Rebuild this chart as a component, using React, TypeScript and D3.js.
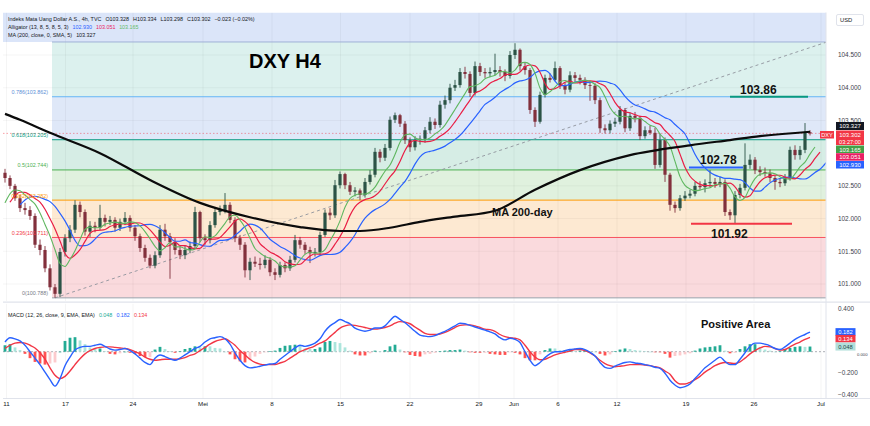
import React from "react";
import * as d3 from "d3";

// ---------- DATA ----------
const firstOpen = 102.7;
const closes = [
  102.62,102.50,102.31,102.16,102.13,102.04,101.60,101.52,101.24,100.95,
  100.85,101.49,101.70,101.83,102.21,102.10,101.80,101.89,101.86,102.01,
  101.95,101.98,101.86,101.95,102.01,101.86,101.73,101.55,101.40,101.28,
  101.44,101.83,101.73,101.64,101.52,101.44,101.52,101.58,102.10,101.70,
  101.67,101.90,102.10,102.13,102.21,101.98,101.70,101.60,101.21,101.34,
  101.31,101.29,101.37,101.18,101.14,101.29,101.24,101.37,101.67,101.60,
  101.52,101.47,101.49,101.75,102.09,102.05,102.51,102.68,102.51,102.41,
  102.43,102.36,102.56,102.67,103.02,102.93,103.08,103.51,103.58,103.45,
  103.20,103.09,103.20,103.22,103.35,103.48,103.43,103.74,103.81,104.00,
  104.04,104.24,104.21,103.92,104.33,104.24,104.22,104.24,104.27,104.24,
  104.18,104.50,104.58,104.33,104.27,103.66,103.48,103.89,104.15,104.12,
  104.30,104.04,103.97,104.19,104.15,104.12,104.04,104.03,103.81,103.38,
  103.35,103.45,103.48,103.66,103.38,103.57,103.54,103.26,103.35,103.31,
  102.82,103.20,102.67,102.21,102.16,102.31,102.35,102.38,102.50,102.48,
  102.54,102.56,102.53,102.56,102.10,102.05,102.36,102.47,102.82,102.90,
  102.74,102.71,102.69,102.62,102.56,102.54,102.62,103.05,102.97,103.05,
  103.32,103.30,
];
const highs = [
  102.76,102.66,102.53,102.36,102.24,102.19,102.08,101.68,101.58,101.30,
  101.00,101.55,101.76,101.90,102.28,102.26,102.14,101.96,101.95,102.21,
  102.06,102.04,102.02,102.00,102.10,102.05,101.90,101.77,101.60,101.45,
  101.50,101.90,101.92,101.78,101.70,101.58,101.58,101.65,102.18,102.12,
  101.76,101.96,102.17,102.20,102.39,102.25,102.02,101.75,101.64,101.40,
  101.42,101.40,101.44,101.41,101.24,101.34,101.33,101.43,101.75,101.72,
  101.64,101.57,101.55,101.80,102.14,102.16,102.59,102.72,102.70,102.56,
  102.48,102.46,102.62,102.74,103.08,103.06,103.14,103.56,103.62,103.60,
  103.49,103.24,103.26,103.27,103.40,103.55,103.53,103.80,103.88,104.06,
  104.12,104.30,104.32,104.25,104.40,104.38,104.30,104.31,104.52,104.33,
  104.28,104.56,104.68,104.60,104.38,104.30,103.70,103.94,104.20,104.22,
  104.40,104.33,104.08,104.25,104.24,104.20,104.16,104.10,104.07,103.85,
  103.44,103.50,103.54,103.72,103.69,103.62,103.63,103.57,103.41,103.42,
  103.39,103.30,103.24,102.70,102.26,102.36,102.42,102.44,102.56,102.57,
  102.60,102.74,102.62,102.64,102.60,102.14,102.42,102.53,103.15,102.98,
  102.94,102.80,102.78,102.75,102.66,102.62,102.68,103.10,103.12,103.11,
  103.46,103.35,
];
const lows = [
  102.55,102.45,102.27,102.10,102.06,101.98,101.55,101.44,101.18,100.90,
  100.79,100.80,101.42,101.64,101.78,102.02,101.74,101.72,101.79,101.82,
  101.88,101.90,101.80,101.81,101.90,101.80,101.66,101.49,101.34,101.24,
  101.24,101.40,101.66,101.08,101.45,101.38,101.38,101.47,101.54,101.64,
  101.60,101.62,101.86,102.05,102.08,101.93,101.64,101.52,101.10,101.06,
  101.26,101.22,101.24,101.12,101.06,101.10,101.18,101.20,101.33,101.54,
  101.46,101.32,101.42,101.44,101.72,101.98,102.01,102.46,102.45,102.36,
  102.34,102.28,102.32,102.52,102.63,102.86,102.88,103.04,103.46,103.40,
  103.14,103.02,103.04,103.13,103.16,103.30,103.37,103.39,103.68,103.76,
  103.95,104.00,104.14,103.86,103.88,104.18,104.15,104.16,104.19,104.17,
  104.10,104.14,104.44,104.26,104.20,103.60,103.40,103.45,103.85,104.08,
  104.10,103.98,103.90,103.93,104.09,104.05,103.98,103.80,103.75,103.31,
  103.30,103.30,103.40,103.44,103.32,103.34,103.47,103.20,103.22,103.28,
  102.76,102.78,102.56,102.12,102.09,102.12,102.27,102.31,102.34,102.44,
  102.40,102.48,102.47,102.48,102.04,101.98,101.92,102.31,102.43,102.76,
  102.68,102.65,102.64,102.56,102.44,102.48,102.50,102.58,102.90,102.90,
  103.00,103.27,
];

// MA(200) at candle indices
const maIdx = [0,3,9,19,29,39,49,59,67,71,77,83,90,98,106,115,125,137,145,151,161];
const maVals = [103.60,103.51,103.31,103.00,102.59,102.24,102.02,101.87,101.81,101.81,101.86,101.95,102.03,102.12,102.44,102.74,102.97,103.12,103.20,103.26,103.327];

// Alligator (starting value of each line)
const jawSeed = 102.21;
const teethSeed = 102.25;
const lipsSeed = 102.24;

const macdVals = [
  0.09,0.13,0.12,0.10,0.06,0.00,-0.06,-0.12,-0.19,-0.26,
  -0.32,-0.25,-0.13,-0.05,0.015,0.04,0.05,0.05,0.06,0.07,
  0.05,0.025,0.015,0.02,0.03,0.01,-0.02,-0.06,-0.10,-0.12,
  -0.06,-0.03,-0.045,-0.065,-0.08,-0.06,-0.03,0.00,0.03,0.05,
  0.09,0.12,0.13,0.14,0.12,0.07,-0.01,-0.08,-0.13,-0.15,
  -0.145,-0.135,-0.125,-0.115,-0.11,-0.07,-0.035,0.00,0.035,0.06,
  0.05,0.06,0.08,0.12,0.19,0.24,0.27,0.30,0.28,0.26,
  0.22,0.20,0.19,0.20,0.22,0.22,0.24,0.29,0.33,0.30,
  0.27,0.23,0.19,0.155,0.145,0.14,0.15,0.17,0.19,0.215,
  0.24,0.265,0.26,0.245,0.23,0.215,0.20,0.185,0.165,0.13,
  0.11,0.125,0.115,0.085,0.00,-0.08,-0.13,-0.10,-0.055,-0.02,
  0.00,0.00,0.01,0.02,0.025,0.03,0.02,-0.005,-0.04,-0.10,
  -0.145,-0.155,-0.135,-0.115,-0.10,-0.095,-0.105,-0.11,-0.12,-0.13,
  -0.145,-0.155,-0.20,-0.265,-0.31,-0.335,-0.325,-0.30,-0.25,-0.20,
  -0.15,-0.115,-0.08,-0.05,-0.09,-0.12,-0.12,-0.07,-0.01,0.05,
  0.08,0.08,0.07,0.055,0.03,0.02,0.045,0.08,0.115,0.14,
  0.16,0.182,
];
const signalVals = [
  0.03,0.06,0.08,0.085,0.08,0.06,0.035,-0.01,-0.07,-0.15,
  -0.22,-0.25,-0.23,-0.18,-0.12,-0.065,-0.02,0.01,0.03,0.04,
  0.045,0.045,0.04,0.035,0.03,0.02,0.00,-0.02,-0.05,-0.07,
  -0.08,-0.075,-0.07,-0.07,-0.07,-0.065,-0.055,-0.035,-0.02,0.01,
  0.04,0.07,0.095,0.11,0.12,0.095,0.06,0.01,-0.03,-0.07,
  -0.10,-0.115,-0.12,-0.12,-0.12,-0.105,-0.09,-0.06,-0.03,0.00,
  0.02,0.035,0.055,0.08,0.10,0.14,0.18,0.22,0.24,0.25,
  0.245,0.235,0.225,0.215,0.21,0.215,0.225,0.24,0.265,0.28,
  0.275,0.26,0.23,0.20,0.17,0.16,0.16,0.165,0.18,0.20,
  0.225,0.245,0.25,0.25,0.24,0.225,0.21,0.205,0.19,0.16,
  0.14,0.13,0.125,0.11,0.06,0.00,-0.05,-0.075,-0.07,-0.05,
  -0.03,-0.015,-0.005,0.005,0.02,0.02,0.01,-0.01,-0.04,-0.08,
  -0.11,-0.13,-0.14,-0.135,-0.13,-0.12,-0.12,-0.12,-0.125,-0.13,
  -0.14,-0.15,-0.18,-0.21,-0.27,-0.30,-0.30,-0.285,-0.26,-0.23,
  -0.19,-0.16,-0.13,-0.11,-0.10,-0.105,-0.11,-0.095,-0.06,-0.02,
  0.01,0.035,0.05,0.045,0.03,0.015,0.02,0.045,0.07,0.09,
  0.115,0.134,
];

const dateLabels = ["11","17","24","Mei","8","15","22","29","Jun","6","12","19","26","Jul"];
const dateIdx = [0.3,12.1,25.6,39.6,53.4,67.1,81,94.8,101.8,110.6,122.4,136.2,149.8,163.2];
const priceTicks = [104.5,104.0,103.5,102.5,102.0,101.5,101.0];
const macdTickVals = [0.4,-0.2,-0.4];
const macdTickText = ["0.400","−0.200","−0.400"];
const macdZeroText = "0.000";

const fibLow = 100.788;
const fibHigh = 104.699;
const fibLowIdx = 10;
const fibRatios = [0,0.236,0.382,0.5,0.618,0.786,1];
const fibNames = ["0","0.236","0.382","0.5","0.618","0.786"];
const fibPriceText = ["100.788","101.711","102.282","102.744","103.205","103.862"];

const lastPrice = 103.302;
const legendMain = "Indeks Mata Uang Dollar A.S., 4h, TVC";
const legendOHLC = ["103.328","103.334","103.298","103.302"];
const alligatorVals = ["102.930","103.051","103.165"];
const maLegendVal = "103.327";
const macdLegendVals = ["0.048","0.182","0.134"];

const level1 = 103.86, level1From = 145, level1To = 160.6;
const level2 = 102.78, level2From = 136.8, level2To = 147.6;
const level3 = 101.92, level3From = 137.2, level3To = 157.4;

// ---------- HELPERS ----------
function smma(src: number[], n: number, seed: number) {
  const out: number[] = [];
  let prev = seed;
  for (let i = 0; i < src.length; i++) {
    prev = (prev * (n - 1) + src[i]) / n;
    out.push(prev);
  }
  return out;
}

export default function App() {
  const PL = 3, PR = 826;
  const MT = 12.5, MB = 301;
  const ST = 303.5, SB = 398.5;

  const x = d3.scaleLinear().domain([0, 164.4]).range([5, 827]);
  const y = d3.scaleLinear().domain([101, 104.5]).range([284, 55]);
  const ym = d3.scaleLinear().domain([-0.4, 0.4]).range([394.7, 308.7]);

  const opens = closes.map((c, i) => (i === 0 ? firstOpen : closes[i - 1]));
  const hl2 = highs.map((h, i) => (h + lows[i]) / 2);

  const mkAll = (n: number, shift: number, seed: number) => {
    const s = smma(hl2, n, seed);
    const pts: [number, number][] = [[shift - 1, seed]];
    s.forEach((v, k) => pts.push([k + shift, v]));
    return pts;
  };
  const jaw = mkAll(6, 4, jawSeed);
  const teeth = mkAll(4, 2, teethSeed);
  const lips = mkAll(3, 1, lipsSeed);

  const lineP = d3
    .line<[number, number]>()
    .x((d) => x(d[0]))
    .y((d) => y(d[1]))
    .curve(d3.curveMonotoneX);
  const lineM = d3
    .line<[number, number]>()
    .x((d) => x(d[0]))
    .y((d) => ym(d[1]))
    .curve(d3.curveMonotoneX);

  const maPts: [number, number][] = maIdx.map((i, k) => [i, maVals[k]]);
  const macdPts: [number, number][] = macdVals.map((v, i) => [i, v]);
  const sigPts: [number, number][] = signalVals.map((v, i) => [i, v]);
  const hist = macdVals.map((m, i) => m - signalVals[i]);

  const fibPrices = fibRatios.map((r) => fibLow + r * (fibHigh - fibLow));
  const fibLine = ["#9aa3ad", "#f7525f", "#ff9800", "#4caf50", "#089981", "#64b5f6", "#9fb0d6"];
  const fibFill = ["#fadadd", "#fde9d2", "#e0f1de", "#d6ede5", "#dfe8f8", "#dcf1ee"];
  const fibText = ["#787b86", "#f23645", "#ff9800", "#4caf50", "#089981", "#5b8fd6"];
  const fibX0 = x(fibLowIdx) - 3;

  const upC = "#2b5346";
  const dnC = "#82303c";
  const font = "'Liberation Sans', Arial, sans-serif";

  return (
    <svg
      width={870}
      height={426}
      style={{ position: "absolute", left: 0, top: 0, background: "#fff" }}
      fontFamily={font}
    >
      <defs>
        <clipPath id="mainClip">
          <rect x={PL} y={MT} width={PR - PL} height={MB - MT} />
        </clipPath>
        <clipPath id="subClip">
          <rect x={PL} y={ST} width={PR - PL} height={SB - ST} />
        </clipPath>
      </defs>

      {/* ---- main pane background ---- */}
      <g clipPath="url(#mainClip)">
        <rect x={PL} y={MT} width={PR - PL} height={y(fibHigh) - MT} fill="#dbe5f9" />
        {fibFill.map((c, k) => (
          <rect
            key={k}
            x={fibX0}
            y={y(fibPrices[k + 1])}
            width={PR - fibX0}
            height={y(fibPrices[k]) - y(fibPrices[k + 1])}
            fill={c}
          />
        ))}
        {dateIdx.map((d, k) => (
          <line key={k} x1={x(d)} x2={x(d)} y1={MT} y2={MB} stroke="#000" strokeOpacity={0.04} />
        ))}
        {priceTicks.map((p, k) => (
          <line key={k} x1={PL} x2={PR} y1={y(p)} y2={y(p)} stroke="#000" strokeOpacity={0.04} />
        ))}
        {fibPrices.map((p, k) => (
          <line key={k} x1={fibX0} x2={PR} y1={y(p)} y2={y(p)} stroke={fibLine[k]} strokeWidth={1} />
        ))}
        <line
          x1={x(fibLowIdx)}
          y1={y(fibLow)}
          x2={x(164.4)}
          y2={y(fibHigh)}
          stroke="#8e939c"
          strokeWidth={0.9}
          strokeDasharray="3,3"
        />
        <line x1={PL} x2={PR} y1={y(lastPrice)} y2={y(lastPrice)} stroke="#f23645" strokeOpacity={0.6} strokeWidth={0.8} strokeDasharray="1.5,2" />

        {/* candles */}
        {closes.map((c, i) => {
          const o = opens[i];
          const col = c >= o ? upC : dnC;
          const hi = Math.max(highs[i], o, c);
          const lo = Math.min(lows[i], o, c);
          const yt = y(Math.max(o, c));
          const yb = y(Math.min(o, c));
          return (
            <g key={i}>
              <line x1={x(i)} x2={x(i)} y1={y(hi)} y2={y(lo)} stroke={col} strokeWidth={0.9} />
              <rect x={x(i) - 1.6} y={yt} width={3.2} height={Math.max(0.8, yb - yt)} fill={col} />
            </g>
          );
        })}

        {/* alligator */}
        <path d={lineP(jaw) || ""} fill="none" stroke="#2962ff" strokeWidth={1.2} />
        <path d={lineP(teeth) || ""} fill="none" stroke="#e91e45" strokeWidth={1.2} />
        <path d={lineP(lips) || ""} fill="none" stroke="#5fb760" strokeWidth={1.1} />

        {/* MA 200 */}
        <path d={lineP(maPts) || ""} fill="none" stroke="#0b0b0b" strokeWidth={2.2} />

        {/* annotation lines */}
        <line x1={x(level1From)} x2={x(level1To)} y1={y(level1)} y2={y(level1)} stroke="#089981" strokeWidth={2} />
        <line x1={x(level2From)} x2={x(level2To)} y1={y(level2)} y2={y(level2)} stroke="#2962ff" strokeWidth={2} />
        <line x1={x(level3From)} x2={x(level3To)} y1={y(level3)} y2={y(level3)} stroke="#f23645" strokeWidth={2} />
      </g>

      {/* fib labels */}
      {fibNames.map((n, k) => (
        <text
          key={k}
          x={48}
          y={y(fibPrices[k]) - 2.6}
          textAnchor="end"
          fontSize={5.4}
          fill={fibText[k]}
        >
          {`${n}(${fibPriceText[k]})`}
        </text>
      ))}

      {/* legend */}
      <text x={8} y={21} fontSize={5.4} fill="#131722">
        {legendMain}
        <tspan dx={4}>O</tspan><tspan>{legendOHLC[0]}</tspan>
        <tspan dx={4}>H</tspan><tspan>{legendOHLC[1]}</tspan>
        <tspan dx={4}>L</tspan><tspan>{legendOHLC[2]}</tspan>
        <tspan dx={4}>C</tspan><tspan>{legendOHLC[3]}</tspan>
        <tspan dx={4}>−0.023 (−0.02%)</tspan>
      </text>
      <text x={8} y={29.3} fontSize={5.4} fill="#131722">
        Alligator (13, 8, 5, 8, 5, 3)
        <tspan dx={4} fill="#2962ff">{alligatorVals[0]}</tspan>
        <tspan dx={4} fill="#e91e63">{alligatorVals[1]}</tspan>
        <tspan dx={4} fill="#66bb6a">{alligatorVals[2]}</tspan>
      </text>
      <text x={8} y={37.3} fontSize={5.4} fill="#131722">
        MA (200, close, 0, SMA, 5)
        <tspan dx={4}>{maLegendVal}</tspan>
      </text>

      {/* annotations text */}
      <text x={249} y={67.5} fontSize={20} fontWeight="bold" fill="#000">DXY H4</text>
      <text x={740} y={93.5} fontSize={12} fontWeight="bold" fill="#111">103.86</text>
      <text x={700} y={164} fontSize={12} fontWeight="bold" fill="#111">102.78</text>
      <text x={711} y={237.5} fontSize={12} fontWeight="bold" fill="#111">101.92</text>
      <text x={492} y={216} fontSize={11} fontWeight="bold" fill="#111">MA 200-day</text>

      {/* ---- right price axis ---- */}
      <line x1={PR} x2={PR} y1={MT} y2={SB} stroke="#e0e3eb" />
      {priceTicks.map((p, k) => (
        <text key={k} x={838} y={y(p) + 2.3} fontSize={6.4} fill="#3a3e4a">
          {p.toFixed(3)}
        </text>
      ))}
      <rect x={836.5} y={14.5} width={27} height={11} fill="#fff" stroke="#e0e3eb" rx={1.5} />
      <text x={840} y={22} fontSize={5.8} fill="#131722">USD</text>

      <rect x={836} y={122} width={28} height={8} fill="#131722" />
      <text x={850} y={128.3} textAnchor="middle" fontSize={6} fill="#fff">{maLegendVal}</text>
      <rect x={820} y={131} width={14} height={7.5} fill="#f23645" />
      <text x={827} y={137} textAnchor="middle" fontSize={5.6} fill="#fff">DXY</text>
      <rect x={836} y={130.5} width={28} height={14.5} fill="#f23645" />
      <text x={850} y={137} textAnchor="middle" fontSize={6} fill="#fff">{legendOHLC[3]}</text>
      <text x={850} y={143.5} textAnchor="middle" fontSize={5.6} fill="#fff">03:27:00</text>
      <rect x={836} y={145.5} width={28} height={7.5} fill="#43a047" />
      <text x={850} y={151.5} textAnchor="middle" fontSize={6} fill="#fff">{alligatorVals[2]}</text>
      <rect x={836} y={153.2} width={28} height={7.5} fill="#e91e63" />
      <text x={850} y={159.2} textAnchor="middle" fontSize={6} fill="#fff">{alligatorVals[1]}</text>
      <rect x={836} y={161} width={28} height={7.5} fill="#2962ff" />
      <text x={850} y={167} textAnchor="middle" fontSize={6} fill="#fff">{alligatorVals[0]}</text>

      {/* ---- separators ---- */}
      <line x1={PL} x2={870} y1={302.2} y2={302.2} stroke="#e0e3eb" strokeWidth={1.2} />
      <line x1={PL} x2={870} y1={SB} y2={SB} stroke="#e0e3eb" />

      {/* ---- MACD pane ---- */}
      <g clipPath="url(#subClip)">
        {dateIdx.map((d, k) => (
          <line key={k} x1={x(d)} x2={x(d)} y1={ST} y2={SB} stroke="#000" strokeOpacity={0.04} />
        ))}
        <line x1={PL} x2={PR} y1={ym(0)} y2={ym(0)} stroke="#9598a1" strokeWidth={0.8} strokeDasharray="2,2" />
        {hist.map((h, i) => {
          const prev = i > 0 ? hist[i - 1] : h;
          const col = h >= 0 ? (h < prev ? "#ace5dc" : "#22ab94") : (h > prev ? "#fccbcd" : "#ff5252");
          const y0 = ym(0);
          const y1 = ym(h);
          return (
            <rect key={i} x={x(i) - 1.4} y={Math.min(y0, y1)} width={2.8} height={Math.max(0.6, Math.abs(y1 - y0))} fill={col} />
          );
        })}
        <path d={lineM(sigPts) || ""} fill="none" stroke="#f23645" strokeWidth={1.4} />
        <path d={lineM(macdPts) || ""} fill="none" stroke="#2962ff" strokeWidth={1.4} />
      </g>
      <text x={8} y={317} fontSize={5.4} fill="#131722">
        MACD (12, 26, close, 9, EMA, EMA)
        <tspan dx={4} fill="#22ab94">{macdLegendVals[0]}</tspan>
        <tspan dx={4} fill="#2962ff">{macdLegendVals[1]}</tspan>
        <tspan dx={4} fill="#f23645">{macdLegendVals[2]}</tspan>
      </text>
      <text x={701} y={327.5} fontSize={11} fontWeight="bold" fill="#111">Positive Area</text>

      {macdTickVals.map((v, k) => (
        <text key={k} x={838} y={ym(v) + 2.2} fontSize={6.4} fill="#3a3e4a">
          {macdTickText[k]}
        </text>
      ))}
      <text x={857} y={ym(0) + 4} fontSize={4.2} fill="#3a3e4a">{macdZeroText}</text>
      <rect x={835.5} y={ym(0.182) - 4} width={20} height={7.5} fill="#2962ff" />
      <text x={845.5} y={ym(0.182) + 2} textAnchor="middle" fontSize={5.8} fill="#fff">{macdLegendVals[1]}</text>
      <rect x={835.5} y={ym(0.134) - 2.4} width={20} height={7.5} fill="#f23645" />
      <text x={845.5} y={ym(0.134) + 3.6} textAnchor="middle" fontSize={5.8} fill="#fff">{macdLegendVals[2]}</text>
      <rect x={835.5} y={ym(0.048) - 4} width={20} height={8} fill="#b2dfdb" />
      <text x={845.5} y={ym(0.048) + 2.2} textAnchor="middle" fontSize={5.8} fill="#1e4d49">{macdLegendVals[0]}</text>

      {/* ---- date axis ---- */}
      {dateLabels.map((l, k) => (
        <text key={k} x={x(dateIdx[k])} y={406} textAnchor="middle" fontSize={6.2} fill="#131722">
          {l}
        </text>
      ))}
    </svg>
  );
}
